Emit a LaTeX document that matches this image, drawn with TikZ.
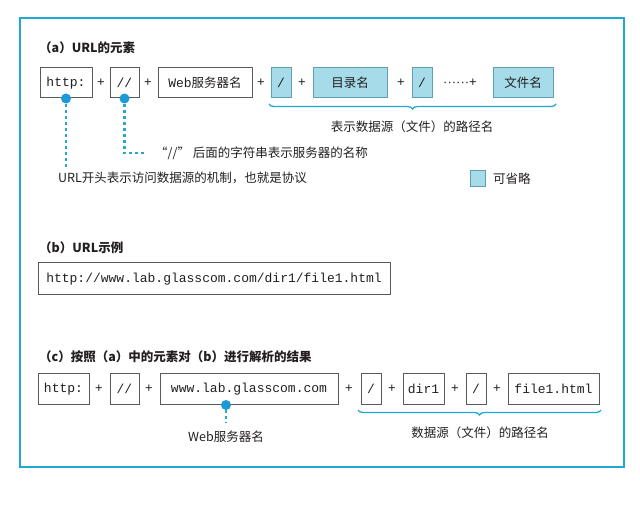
\documentclass[tikz,border=0pt]{standalone}
\usepackage{fontspec}
\setmainfont{Noto Sans CJK SC}
\newfontfamily\monofnt{Liberation Mono}
\newfontfamily\latsans{Liberation Sans}
\usetikzlibrary{decorations.pathreplacing}
\definecolor{frameblue}{HTML}{1EA8D2}
\definecolor{fillblue}{HTML}{A6DBEA}
\definecolor{optline}{HTML}{5E9FB2}
\definecolor{dotblue}{HTML}{1B9AD6}
\definecolor{dashblue}{HTML}{2BA7C6}
\definecolor{txt}{HTML}{231F20}
\definecolor{boxline}{HTML}{5A5A5A}
\tikzset{
  elem/.style={draw=boxline, line width=1pt, minimum height=30pt, inner sep=0pt, text=txt, font=\monofnt\fontsize{13}{13}\selectfont},
  optbox/.style={elem, fill=fillblue, draw=optline},
  lbl/.style={font=\fontsize{12.5}{13}\selectfont, text=txt, inner sep=0pt},
  ttl/.style={font=\bfseries\fontsize{12.5}{13}\selectfont, text=txt, inner sep=0pt, anchor=west},
  plus/.style={font=\latsans\fontsize{13}{13}\selectfont, text=txt, inner sep=0pt},
  bdot/.style={circle, fill=dotblue, minimum size=10pt, inner sep=0pt},
  dashline/.style={draw=dashblue, line width=2.2pt, dash pattern=on 3pt off 3pt},
  brc/.style={draw=frameblue, line width=1.3pt, decorate, decoration={brace, mirror, amplitude=5pt}}
}
\begin{document}
\begin{tikzpicture}[x=1pt,y=-1pt]
\useasboundingbox (0,0) rectangle (640,510);
\draw[frameblue, line width=2.5pt] (20,18) rectangle (624,467);

% (a)
\node[ttl] (ta) at (39,48) {（a）URL的元素};
\node[elem, minimum width=52pt] (ha) at (66,83) {http:};
\node[plus] (pa1) at (101,83) {+};
\node[elem, minimum width=29pt] (sa) at (124.5,83) {//};
\node[plus] (pa2) at (148,83) {+};
\node[elem, minimum width=94pt] (wa) at (205,83) {Web{\rmfamily\fontsize{12.5}{13}\selectfont 服务器名}};
\node[plus] (pa3) at (261,83) {+};
\node[optbox, minimum width=20pt] (s1a) at (281,83) {/};
\node[plus] (pa4) at (302,83) {+};
\node[optbox, minimum width=74pt, font=\fontsize{12.5}{13}\selectfont] (da) at (350,83) {目录名};
\node[plus] (pa5) at (401,83) {+};
\node[optbox, minimum width=20pt] (s2a) at (422,83) {/};
\node[plus] (pa6) at (460,83) {······+};
\node[optbox, minimum width=60pt, font=\fontsize{12.5}{13}\selectfont] (fa) at (523,83) {文件名};

\coordinate (bra1) at (269,104);
\coordinate (bra2) at (556,104);
\draw[brc] (bra1) -- (bra2);
\node[lbl] (patha) at (412,127) {表示数据源（文件）的路径名};

\node[bdot] (hadot) at (ha.south) {};
\node[bdot] (sadot) at (sa.south) {};
\coordinate (haend) at (64.5,168);
\coordinate (saend) at (146,153);
\draw[dashline] (hadot.south) -- (hadot.south |- haend);
\draw[dashline] (sadot.south) |- (saend);
\node[lbl, anchor=west] (protolbl) at (58,178) {URL开头表示访问数据源的机制，也就是协议};
\node[lbl, anchor=west] (srvlbl) at (155,153) {“//” 后面的字符串表示服务器的名称};

\node[optbox, minimum width=15pt, minimum height=16pt] (leg) at (477.5,179) {};
\node[lbl, anchor=west] (leglbl) at (493,179) {可省略};

% (b)
\node[ttl] (tb) at (39,248) {（b）URL示例};
\node[elem, minimum width=352pt, minimum height=32pt] (ex) at (214,279) {http://www.lab.glasscom.com/dir1/file1.html};

% (c)
\node[ttl] (tc) at (39,357) {（c）按照（a）中的元素对（b）进行解析的结果};
\node[elem, minimum width=51pt, minimum height=31pt] (hc) at (63.5,389) {http:};
\node[plus] (pc1) at (99,389) {+};
\node[elem, minimum width=29pt, minimum height=31pt] (sc) at (124.5,389) {//};
\node[plus] (pc2) at (149,389) {+};
\node[elem, minimum width=178pt, minimum height=31pt] (wc) at (249,389) {www.lab.glasscom.com};
\node[plus] (pc3) at (349,389) {+};
\node[elem, minimum width=20pt, minimum height=31pt] (s1c) at (371,389) {/};
\node[plus] (pc4) at (392,389) {+};
\node[elem, minimum width=41pt, minimum height=31pt] (dc) at (423.5,389) {dir1};
\node[plus] (pc5) at (455,389) {+};
\node[elem, minimum width=20pt, minimum height=31pt] (s2c) at (476,389) {/};
\node[plus] (pc6) at (497,389) {+};
\node[elem, minimum width=91pt, minimum height=31pt] (fc) at (553.5,389) {file1.html};

\node[bdot] (wcdot) at ([xshift=-23pt]wc.south) {};
\coordinate (wcend) at (226,423);
\draw[dashline] (wcdot.south) -- (wcdot.south |- wcend);
\node[lbl] (webcl) at (226,437) {Web服务器名};

\coordinate (brc1) at (358,410);
\coordinate (brc2) at (601,410);
\draw[brc] (brc1) -- (brc2);
\node[lbl] (pathc) at (480,433) {数据源（文件）的路径名};
\end{tikzpicture}
\end{document}
